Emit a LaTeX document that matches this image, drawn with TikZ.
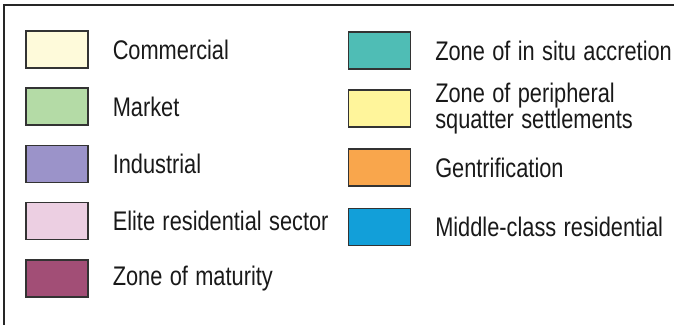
\documentclass[tikz,border=0pt]{standalone}
\usepackage{fontspec}
\setmainfont{Liberation Sans}[FakeStretch=0.81,WordSpace=1.22]
\usepackage{xcolor}
\usepackage{tikz}
\usetikzlibrary{positioning}

\definecolor{commercialC}{HTML}{FEFADA}
\definecolor{marketC}{HTML}{B4DBA6}
\definecolor{industrialC}{HTML}{9B93C9}
\definecolor{eliteC}{HTML}{ECCFE2}
\definecolor{maturityC}{HTML}{A24E76}
\definecolor{accretionC}{HTML}{4FBDB5}
\definecolor{squatterC}{HTML}{FFF59B}
\definecolor{gentrifyC}{HTML}{F9A64C}
\definecolor{middleC}{HTML}{129FD9}

\begin{document}
\begin{tikzpicture}[x=1bp,y=-1bp,%
          swatch/.style={
              draw=black!80,
              line width=1.1bp,
              minimum width=62bp,
              minimum height=37bp,
              inner sep=0pt,
              fill=#1
            },key/.style={
              right=24bp of #1,
              inner sep=0pt,
              text=black!90,
              font=\fontsize{27}{23.5}\selectfont,
              align=left
            }
        ]
        \useasboundingbox (0,0) rectangle (674,324);

        % 枠線
        \draw[line width=1.3bp, black!85] (4,330) -- (4,5) -- (680,5);

        % 左の列
        \node[swatch=commercialC] (com) at (57,49.5) {};
        \node[key=com] (com_t) {Commercial};
        \node[swatch=marketC] (mkt) at (57,106.5) {};
        \node[key=mkt] (mkt_t) {Market};
        \node[swatch=industrialC] (ind) at (57,164) {};
        \node[key=ind] (ind_t) {Industrial};
        \node[swatch=eliteC] (eli) at (57,221) {};
        \node[key=eli] (eli_t) {Elite residential sector};
        \node[swatch=maturityC] (mat) at (57,278.5) {};
        \node[key=mat] (mat_t) {Zone of maturity};

        % 右の列
        \node[swatch=accretionC] (acc) at (379.5,50.5) {};
        \node[key=acc] (acc_t) {Zone of in situ accretion};
        \node[swatch=squatterC] (sqt) at (379.5,108.5) {};
        \node[key=sqt] (sqt_t) {Zone of peripheral\\squatter settlements};
        \node[swatch=gentrifyC] (gen) at (379.5,167.5) {};
        \node[key=gen] (gen_t) {Gentrification};
        \node[swatch=middleC] (mid) at (379.5,227) {};
        \node[key=mid] (mid_t) {Middle-class residential};

      \end{tikzpicture}
\end{document}
